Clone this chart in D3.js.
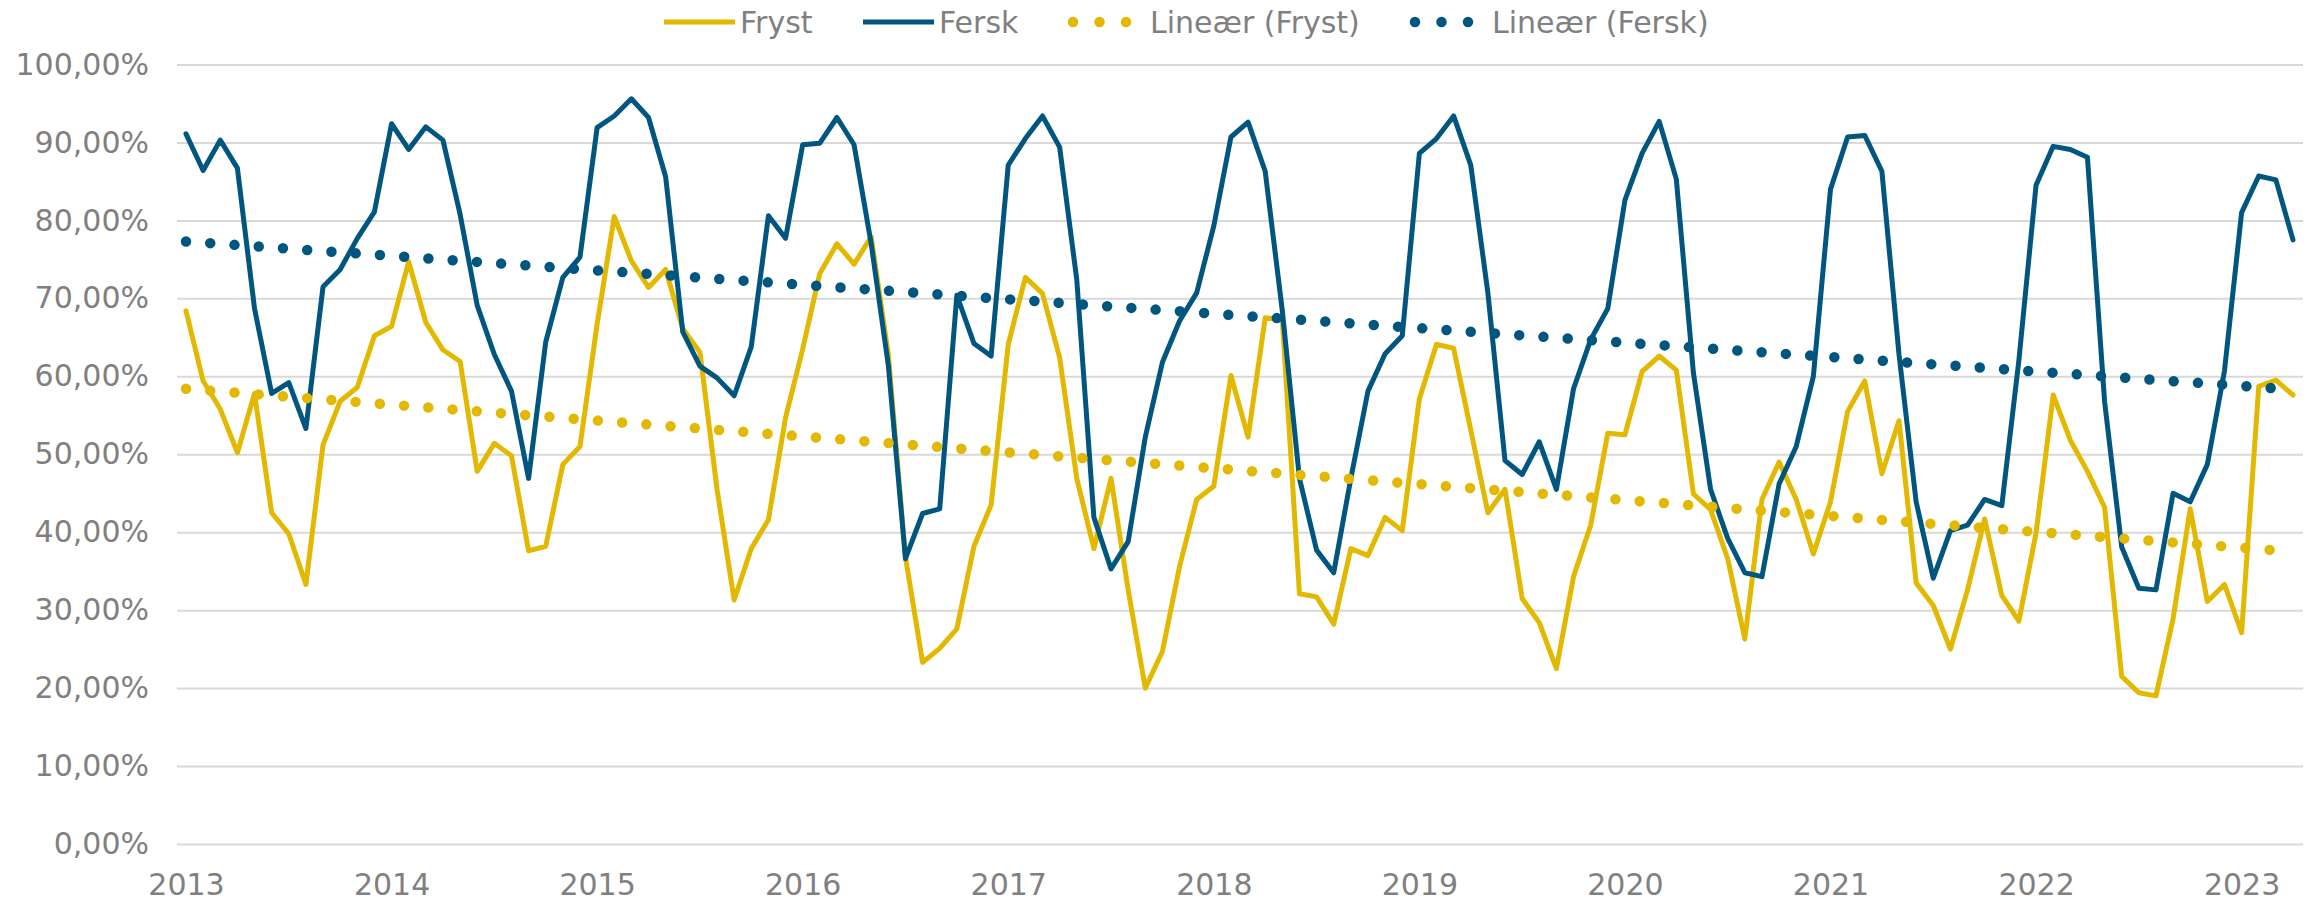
<!DOCTYPE html>
<html lang="no">
<head>
    <meta charset="UTF-8">
    <title>Fryst og fersk</title>
    <script src="https://d3js.org/d3.v7.min.js"></script>
    <style>
        body { margin: 0; background: #fff; }
        svg text { font-family: "DejaVu Sans", sans-serif; font-size: 30px; fill: #808080; }
        .grid line { stroke: #d9d9d9; stroke-width: 2; }
        .line { fill: none; stroke-width: 5; stroke-linejoin: round; stroke-linecap: round; }
        .trend { fill: none; stroke-width: 10.5; stroke-linecap: round; stroke-dasharray: 0 24.3; }
    </style>
</head>
<body>
<svg width="2316" height="904"></svg>
<script>
    // månedlige andeler, jan 2013 - apr 2023
    const months = d3.timeMonth.range(new Date(2013, 0, 1), new Date(2023, 4, 1));
    const years = [2013, 2014, 2015, 2016, 2017, 2018, 2019, 2020, 2021, 2022, 2023];
    const yTicks = [0, 10, 20, 30, 40, 50, 60, 70, 80, 90, 100];

    const fryst = [
        68.4, 59.4, 55.8, 50.2, 57.8, 42.5, 39.8, 33.3, 51.2, 56.8, 58.6, 65.2,
        66.4, 74.7, 66.9, 63.4, 61.9, 47.8, 51.4, 49.8, 37.6, 38.2, 48.7, 51.0,
        66.7, 80.5, 74.8, 71.4, 73.7, 66.1, 63.1, 45.5, 31.3, 37.9, 41.6, 54.7,
        63.5, 73.2, 77.0, 74.4, 77.9, 62.8, 36.8, 23.3, 25.1, 27.6, 38.2, 43.5,
        64.1, 72.7, 70.6, 62.4, 46.9, 37.9, 46.9, 32.6, 20.0, 24.7, 35.6, 44.2,
        45.9, 60.1, 52.2, 67.5, 67.3, 32.1, 31.7, 28.2, 37.9, 37.0, 41.9, 40.2,
        57.1, 64.1, 63.6, 53.1, 42.5, 45.5, 31.5, 28.4, 22.5, 34.3, 40.9, 52.7,
        52.5, 60.6, 62.6, 60.8, 44.9, 42.9, 36.6, 26.3, 44.2, 49.0, 44.2, 37.2,
        43.9, 55.5, 59.4, 47.5, 54.3, 33.5, 30.6, 25.0, 32.6, 41.7, 31.9, 28.6,
        39.9, 57.6, 51.8, 47.8, 43.2, 21.5, 19.4, 19.0, 28.9, 43.0, 31.1, 33.3,
        27.1, 58.7, 59.5, 57.6
    ];
    const fersk = [
        91.1, 86.4, 90.3, 86.7, 68.7, 57.8, 59.2, 53.3, 71.5, 73.7, 77.7, 81.1,
        92.4, 89.1, 92.0, 90.3, 80.8, 69.1, 62.8, 58.1, 46.9, 64.4, 72.7, 75.3,
        91.9, 93.4, 95.6, 93.2, 85.6, 65.7, 61.3, 59.8, 57.5, 63.8, 80.6, 77.7,
        89.7, 89.9, 93.2, 89.7, 77.0, 61.4, 36.6, 42.4, 43.0, 70.4, 64.2, 62.6,
        87.1, 90.5, 93.4, 89.4, 72.4, 41.9, 35.3, 38.8, 52.2, 61.8, 67.1, 70.7,
        79.3, 90.7, 92.6, 86.3, 68.4, 46.9, 37.7, 34.8, 46.9, 58.1, 62.9, 65.2,
        88.6, 90.5, 93.4, 87.1, 70.7, 49.2, 47.4, 51.6, 45.5, 58.4, 64.7, 68.7,
        82.6, 88.6, 92.7, 85.3, 60.4, 45.5, 39.2, 34.8, 34.3, 46.2, 51.0, 60.0,
        84.0, 90.7, 90.9, 86.3, 62.8, 43.9, 34.1, 40.2, 40.9, 44.2, 43.4, 62.1,
        84.5, 89.5, 89.1, 88.1, 56.8, 38.1, 32.8, 32.6, 45.0, 43.9, 48.7, 60.7,
        81.0, 85.7, 85.2, 77.5
    ];
    // lineære trendlinjer: verdi i første og siste måned
    const trendFryst = [58.4, 37.5];
    const trendFersk = [77.3, 58.3];

    const colFryst = "#e2b800", colFersk = "#00567f";

    const svg = d3.select("svg");
    const plotLeft = 177, plotRight = 2303, plotTop = 64.5, plotBottom = 844;

    const x = d3.scaleLinear().domain([0, months.length - 1]).range([186, 2293]);
    const y = d3.scaleLinear().domain([0, 100]).range([plotBottom, plotTop]);

    const nb = d3.formatLocale({decimal: ",", thousands: ".", grouping: [3], currency: ["", " kr"]});
    const pct = nb.format(".2f");

    // rutenett + y-akse
    svg.append("g")
        .attr("class", "grid")
        .attr("transform", `translate(${plotLeft},0)`)
        .call(d3.axisLeft(y).tickValues(yTicks).tickSizeInner(-(plotRight - plotLeft)).tickSizeOuter(0)
            .tickPadding(28).tickFormat(d => pct(d) + "%"))
        .call(g => g.select(".domain").remove())
        .selectAll("text").attr("fill", null);

    // x-akse, årstall på januar
    const janIdx = months.map((d, i) => i).filter(i => months[i].getMonth() === 0);
    svg.append("g")
        .attr("transform", `translate(0,${plotBottom})`)
        .call(d3.axisBottom(x).tickValues(janIdx).tickSize(0).tickPadding(30)
            .tickFormat(i => years[janIdx.indexOf(i)]))
        .call(g => g.select(".domain").remove())
        .selectAll("text").attr("fill", null);

    const line = d3.line().x((d, i) => x(i)).y(d => y(d));

    svg.append("path").datum(fryst).attr("class", "line").attr("stroke", colFryst).attr("d", line);
    svg.append("path").datum(fersk).attr("class", "line").attr("stroke", colFersk).attr("d", line);

    const trendLine = d3.line().x((d, i) => x(i * (months.length - 1))).y(d => y(d));
    svg.append("path").datum(trendFryst).attr("class", "trend").attr("stroke", colFryst).attr("d", trendLine);
    svg.append("path").datum(trendFersk).attr("class", "trend").attr("stroke", colFersk).attr("d", trendLine);

    // legende
    const legend = [
        {name: "Fryst", color: colFryst, dotted: false, x: 664},
        {name: "Fersk", color: colFersk, dotted: false, x: 863},
        {name: "Lineær (Fryst)", color: colFryst, dotted: true, x: 1068},
        {name: "Lineær (Fersk)", color: colFersk, dotted: true, x: 1410}
    ];
    const lg = svg.append("g").attr("transform", "translate(0,22)");
    legend.forEach(d => {
        if (d.dotted) {
            lg.append("line").attr("x1", d.x + 5).attr("x2", d.x + 59).attr("stroke", d.color)
                .attr("stroke-width", 10.5).attr("stroke-linecap", "round").attr("stroke-dasharray", "0 26.5");
        } else {
            lg.append("line").attr("x1", d.x).attr("x2", d.x + 71).attr("stroke", d.color).attr("stroke-width", 5);
        }
        lg.append("text").attr("x", d.x + (d.dotted ? 82 : 76)).attr("dy", "0.35em").text(d.name);
    });
</script>
</body>
</html>
